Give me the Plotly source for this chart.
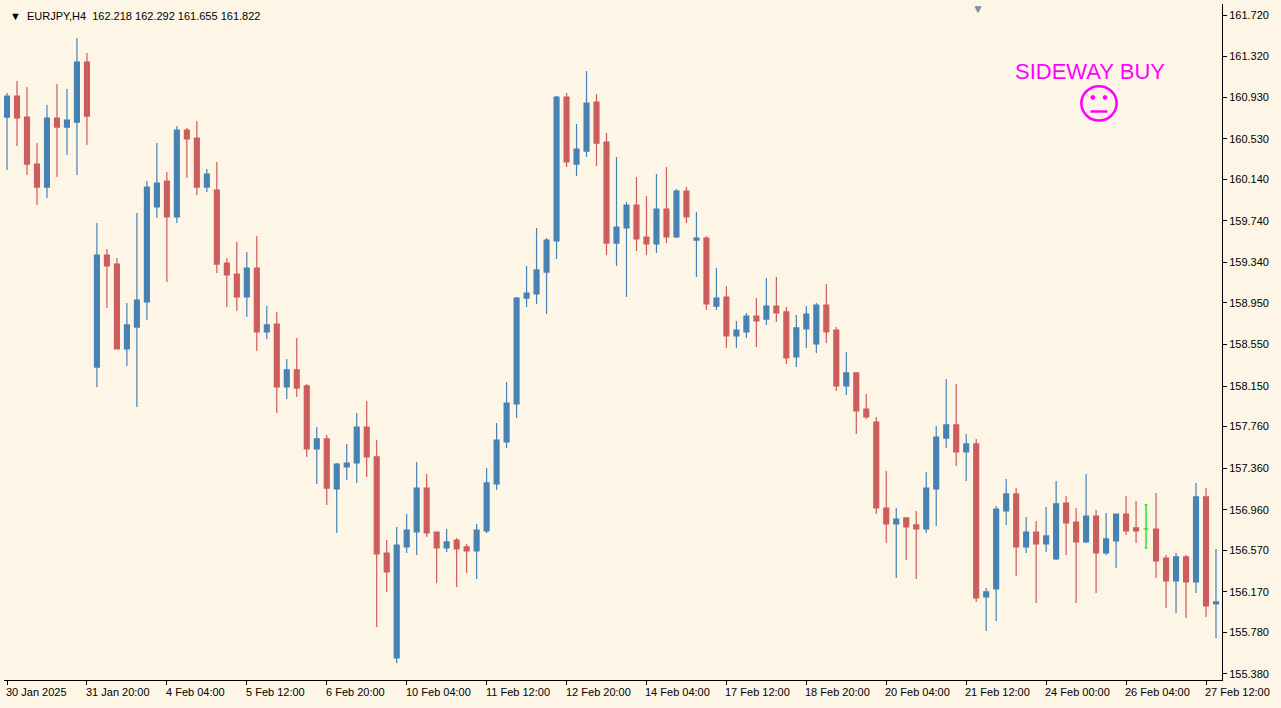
import plotly.graph_objects as go

bull = "#4682B4"
bear = "#CD5C5C"

opens = [160.738, 160.940, 160.738, 160.286, 160.065, 160.729, 160.642, 160.690, 161.268, 158.333,
         159.411, 159.324, 158.507, 158.718, 158.959, 159.873, 160.123, 159.777, 160.613, 160.536,
         160.065, 160.036, 159.334, 159.228, 159.007, 159.286, 158.670, 158.747, 158.141, 158.305,
         158.151, 157.545, 157.641, 157.160, 157.372, 157.410, 157.756, 157.468, 156.544, 155.534,
         156.602, 156.746, 157.169, 156.746, 156.592, 156.669, 156.602, 156.563, 156.756, 157.208,
         157.612, 157.978, 158.997, 159.036, 159.247, 159.546, 160.931, 160.286, 160.411, 160.883,
         160.498, 159.526, 159.671, 159.892, 159.584, 159.517, 159.853, 159.584, 160.027, 159.555,
         159.574, 158.920, 159.007, 158.632, 158.670, 158.824, 158.795, 158.920, 158.863, 158.430,
         158.699, 158.555, 158.930, 158.689, 158.151, 158.276, 157.929, 157.804, 156.977, 156.823,
         156.881, 156.814, 156.775, 157.160, 157.650, 157.776, 157.516, 157.593, 156.121, 156.198,
         156.948, 157.112, 156.602, 156.746, 156.631, 156.486, 157.025, 156.842, 156.650, 156.900,
         156.544, 156.660, 156.919, 156.785, 156.775, 156.775, 156.496, 156.275, 156.506, 156.265,
         157.083, 156.054]
highs = [160.969, 161.085, 161.027, 160.488, 160.854, 161.056, 161.008, 161.498, 161.354, 159.719,
         159.469, 159.382, 158.949, 159.815, 160.123, 160.488, 160.209, 160.652, 160.633, 160.700,
         160.238, 160.306, 159.382, 159.536, 159.440, 159.594, 158.920, 158.863, 158.410, 158.612,
         158.170, 157.756, 157.679, 157.410, 157.593, 157.891, 158.006, 157.631, 156.669, 156.794,
         156.919, 157.420, 157.304, 156.746, 156.775, 156.688, 156.631, 156.823, 157.362, 157.795,
         158.189, 159.007, 159.305, 159.671, 159.574, 160.940, 160.969, 160.671, 161.181, 160.960,
         160.585, 160.354, 159.921, 160.161, 159.979, 160.190, 160.258, 160.046, 160.065, 159.825,
         159.594, 159.286, 159.113, 158.776, 158.853, 158.997, 159.190, 159.199, 158.911, 158.834,
         158.920, 158.949, 159.132, 158.718, 158.478, 158.285, 158.074, 157.853, 157.333, 156.977,
         156.881, 156.948, 157.323, 157.766, 158.218, 158.170, 157.689, 157.641, 156.207, 156.996,
         157.256, 157.169, 156.891, 156.852, 156.987, 157.237, 157.093, 156.977, 157.304, 156.958,
         156.929, 156.919, 157.093, 157.044, 157.006, 157.121, 156.525, 156.544, 156.525, 157.218,
         157.169, 156.583]
lows = [160.229, 160.459, 160.180, 159.892, 159.959, 160.161, 160.373, 160.180, 160.469, 158.141,
        158.901, 158.507, 158.343, 157.949, 158.786, 159.767, 159.151, 159.719, 160.152, 159.988,
        160.017, 159.238, 158.911, 158.872, 158.815, 158.487, 158.603, 157.891, 158.026, 158.045,
        157.468, 157.208, 157.006, 156.737, 157.246, 157.218, 157.275, 155.832, 156.169, 155.486,
        156.544, 156.525, 156.698, 156.256, 156.554, 156.217, 156.352, 156.294, 156.737, 157.150,
        157.554, 157.843, 158.911, 158.940, 158.843, 159.372, 160.258, 160.171, 160.354, 160.267,
        159.411, 159.305, 159.007, 159.449, 159.411, 159.430, 159.526, 159.574, 159.719, 159.199,
        158.882, 158.882, 158.516, 158.516, 158.612, 158.526, 158.738, 158.766, 158.362, 158.333,
        158.516, 158.468, 158.564, 158.103, 158.064, 157.689, 157.833, 156.919, 156.640, 156.304,
        156.477, 156.294, 156.737, 156.804, 157.554, 157.381, 157.237, 156.073, 155.794, 155.890,
        156.814, 156.323, 156.544, 156.063, 156.554, 156.477, 156.525, 156.063, 156.640, 156.159,
        156.525, 156.400, 156.717, 156.640, 156.592, 156.304, 156.015, 155.967, 155.919, 156.159,
        155.929, 155.726]
closes = [160.940, 160.729, 160.286, 160.065, 160.729, 160.642, 160.710, 161.268, 160.748, 159.411,
          159.305, 158.507, 158.738, 158.978, 160.065, 160.104, 159.777, 160.613, 160.527, 160.065,
          160.190, 159.324, 159.219, 159.007, 159.286, 158.670, 158.738, 158.141, 158.305, 158.131,
          157.545, 157.641, 157.169, 157.400, 157.410, 157.756, 157.468, 156.535, 156.361, 156.621,
          156.765, 157.169, 156.737, 156.592, 156.650, 156.583, 156.563, 156.765, 157.218, 157.631,
          157.987, 158.997, 159.045, 159.267, 159.555, 160.931, 160.306, 160.431, 160.873, 160.488,
          159.526, 159.680, 159.892, 159.565, 159.517, 159.853, 159.584, 160.027, 159.777, 159.574,
          158.940, 158.997, 158.632, 158.689, 158.824, 158.776, 158.920, 158.853, 158.420, 158.709,
          158.843, 158.930, 158.670, 158.151, 158.276, 157.910, 157.853, 156.977, 156.823, 156.871,
          156.794, 156.775, 157.169, 157.660, 157.776, 157.516, 157.593, 156.111, 156.169, 156.967,
          157.112, 156.602, 156.746, 156.631, 156.708, 157.016, 156.833, 156.650, 156.900, 156.544,
          156.679, 156.919, 156.756, 156.756, 156.775, 156.467, 156.275, 156.506, 156.265, 157.083,
          156.034, 156.073]

doji_bars = [114]

price_ticks = [161.720, 161.320, 160.930, 160.530, 160.140, 159.740, 159.340, 158.950, 158.550,
               158.150, 157.760, 157.360, 156.960, 156.570, 156.170, 155.780, 155.380]
date_ticks = [0, 8, 16, 24, 32, 40, 48, 56, 64, 72, 80, 88, 96, 104, 112, 120]
date_labels = ["30 Jan 2025", "31 Jan 20:00", "4 Feb 04:00", "5 Feb 12:00", "6 Feb 20:00",
               "10 Feb 04:00", "11 Feb 12:00", "12 Feb 20:00", "14 Feb 04:00", "17 Feb 12:00",
               "18 Feb 20:00", "20 Feb 04:00", "21 Feb 12:00", "24 Feb 00:00", "26 Feb 04:00",
               "27 Feb 12:00"]

xs = list(range(len(opens)))
normal = [i for i in xs if i not in doji_bars]

fig = go.Figure()
fig.add_trace(go.Candlestick(
    x=normal, open=[opens[i] for i in normal], high=[highs[i] for i in normal],
    low=[lows[i] for i in normal], close=[closes[i] for i in normal],
    increasing=dict(line=dict(color=bull, width=1.2), fillcolor=bull),
    decreasing=dict(line=dict(color=bear, width=1.2), fillcolor=bear),
    whiskerwidth=0, hoverinfo="skip"))
fig.add_trace(go.Candlestick(
    x=doji_bars, open=[opens[i] for i in doji_bars], high=[highs[i] for i in doji_bars],
    low=[lows[i] for i in doji_bars], close=[closes[i] for i in doji_bars],
    increasing=dict(line=dict(color="#00E000", width=1.2), fillcolor="#00E000"),
    decreasing=dict(line=dict(color="#00E000", width=1.2), fillcolor="#00E000"),
    whiskerwidth=0.6, hoverinfo="skip"))

for t, lab in zip(date_ticks, date_labels):
    fig.add_annotation(x=t, y=0, yref="paper", yshift=-4, text=lab, showarrow=False,
                       xanchor="left", yanchor="top", xshift=-3,
                       font=dict(family="Liberation Sans", size=11, color="black"))

fig.add_annotation(x=0, y=1, xref="paper", yref="paper", xshift=4, yshift=-4,
                   text="▼  EURJPY,H4  162.218 162.292 161.655 161.822", showarrow=False,
                   xanchor="left", yanchor="top",
                   font=dict(family="Liberation Sans", size=11, color="black"))
fig.add_annotation(x=0.892, y=0.9, xref="paper", yref="paper", text="SIDEWAY BUY",
                   showarrow=False, xanchor="center", yanchor="middle",
                   font=dict(family="Liberation Sans", size=22, color="#FF00FF"))
fig.add_annotation(x=0.8, y=1, xref="paper", yref="paper", yshift=6, text="▼", showarrow=False,
                   xanchor="center", yanchor="top", font=dict(size=12, color="#7f8c9a"))

# neutral face
cx, cy, r = 0.899, 0.853, 0.0145
fig.add_shape(type="circle", xref="paper", yref="paper", x0=cx - r, x1=cx + r,
              y0=cy - r * 1.75, y1=cy + r * 1.75, line=dict(color="#FF00FF", width=2.5))
for dx in (-0.005, 0.005):
    fig.add_shape(type="circle", xref="paper", yref="paper", x0=cx + dx - 0.0016,
                  x1=cx + dx + 0.0016, y0=cy + 0.006, y1=cy + 0.0115,
                  fillcolor="#FF00FF", line=dict(color="#FF00FF", width=1))
fig.add_shape(type="line", xref="paper", yref="paper", x0=cx - 0.007, x1=cx + 0.007,
              y0=cy - 0.012, y1=cy - 0.012, line=dict(color="#FF00FF", width=2.5))

fig.update_layout(
    width=1281, height=708,
    margin=dict(l=4, r=59, t=4, b=28),
    paper_bgcolor="#FDF5E6", plot_bgcolor="#FDF5E6",
    showlegend=False,
    xaxis=dict(range=[-0.3, 121.6], rangeslider=dict(visible=False), showgrid=False,
               zeroline=False, showline=True, linecolor="black", mirror=False,
               tickvals=date_ticks, ticktext=[""] * len(date_ticks), ticks="outside",
               ticklen=4, tickcolor="black"),
    yaxis=dict(range=[155.322, 161.826], side="right", showgrid=False, zeroline=False,
               showline=True, linecolor="black", tickvals=price_ticks,
               ticktext=["%.3f" % v for v in price_ticks], ticks="outside", ticklen=4,
               tickcolor="black", tickfont=dict(family="Liberation Sans", size=11, color="black")),
)

fig.write_html("out.html", config={"displayModeBar": False},
               post_script="document.body.style.margin='0';")
